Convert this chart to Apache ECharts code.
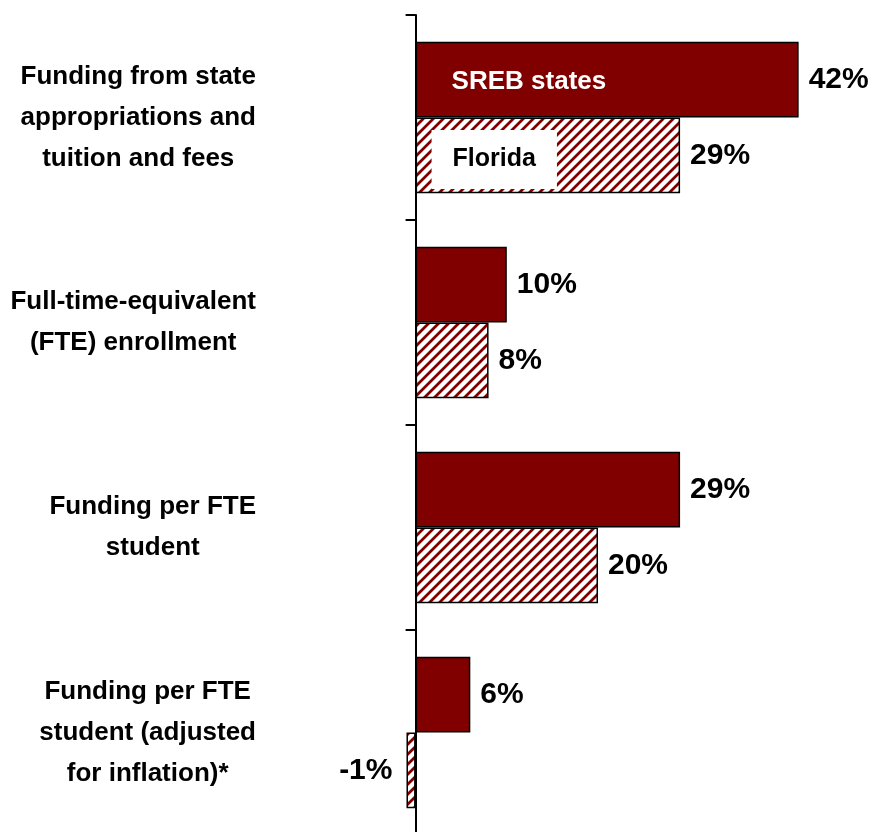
<!DOCTYPE html>
<html>
<head>
<meta charset="utf-8">
<script src="https://cdn.jsdelivr.net/npm/echarts@6/dist/echarts.min.js"></script>
<style>
  html, body { margin: 0; padding: 0; background: #fff; }
  #main { width: 876px; height: 832px; }
</style>
</head>
<body>
<div id="main"></div>
<script>
// data
var categories = [
    'Funding from state\nappropriations and\ntuition and fees',
    'Full-time-equivalent\n(FTE) enrollment',
    'Funding per FTE\nstudent',
    'Funding per FTE\nstudent (adjusted\nfor inflation)*'
];
var seriesNames = ['SREB states', 'Florida'];
var srebValues = [42, 10, 29, 6];
var floridaValues = [29, 8, 20, -1];

var maroon = '#800000';
var font = 'Liberation Sans, Arial, Helvetica, sans-serif';

// diagonal stripes for Florida, drawn pixel by pixel so they stay crisp
function stripes() {
    var s = 10;
    var c = document.createElement('canvas');
    c.width = s; c.height = s;
    var g = c.getContext('2d');
    for (var y = 0; y < s; y++) {
        for (var x = 0; x < s; x++) {
            var k = (x + y) % s;
            g.fillStyle = k < 3 ? maroon : (k === 3 || k === 9 ? '#c48a8a' : '#fff');
            g.fillRect(x, y, 1, 1);
        }
    }
    return c;
}
var hatch = { image: stripes(), repeat: 'repeat' };

function valueLabel() {
    return {
        show: true,
        position: 'right',
        distance: 10,
        color: '#000',
        fontFamily: font,
        fontWeight: 'bold',
        fontSize: 30,
        formatter: function (p) { return p.value + '%'; }
    };
}

// negative bars get their label on the left
function withSide(arr) {
    return arr.map(function (v) {
        return v < 0 ? { value: v, label: { position: 'left', distance: 14 } } : v;
    });
}

// name labels drawn on the first pair of bars only
function firstOnly(arr) {
    return arr.map(function (v, i) {
        return i === 0 ? { value: v, label: { show: true } } : v;
    });
}

var chart = echarts.init(document.getElementById('main'));

var option = {
    animation: false,
    grid: [
        { left: 370, right: 50, top: 15, bottom: -3, outerBoundsMode: 'none', containLabel: false },
        { left: 370, right: 50, top: 15, bottom: -3, outerBoundsMode: 'none', containLabel: false }
    ],
    xAxis: [
        { type: 'value', gridIndex: 0, min: -5, max: 45, show: false },
        { type: 'value', gridIndex: 1, min: -5, max: 45, show: false }
    ],
    yAxis: [
        {
            type: 'category',
            gridIndex: 0,
            inverse: true,
            data: categories,
            axisLine: { onZero: true, lineStyle: { color: '#000', width: 2 } },
            axisTick: { show: true, length: 10, lineStyle: { color: '#000', width: 2 } },
            axisLabel: {
                align: 'right',
                margin: 114,
                formatter: function (v) {
                    return v.split('\n').map(function (l) { return '{c|' + l + '}'; }).join('\n');
                },
                rich: {
                    c: {
                        align: 'center',
                        fontFamily: font,
                        fontWeight: 'bold',
                        fontSize: 26,
                        lineHeight: 41,
                        color: '#000'
                    }
                }
            }
        },
        { type: 'category', gridIndex: 1, inverse: true, data: categories, show: false }
    ],
    series: [
        {
            name: seriesNames[0],
            type: 'bar',
            barGap: '0%',
            barCategoryGap: '26%',
            data: withSide(srebValues),
            itemStyle: { color: maroon, borderColor: '#000', borderWidth: 1.5 },
            label: valueLabel()
        },
        {
            name: seriesNames[1],
            type: 'bar',
            barGap: '0%',
            barCategoryGap: '26%',
            data: withSide(floridaValues),
            itemStyle: { color: hatch, borderColor: '#000', borderWidth: 1.5 },
            label: valueLabel()
        },
        {
            name: seriesNames[0] + ' label',
            type: 'bar',
            xAxisIndex: 1,
            yAxisIndex: 1,
            barGap: '0%',
            barCategoryGap: '26%',
            silent: true,
            data: firstOnly(srebValues),
            itemStyle: { color: 'transparent' },
            label: {
                show: false,
                position: 'insideLeft',
                offset: [31, 2],
                color: '#fff',
                fontFamily: font,
                fontWeight: 'bold',
                fontSize: 26,
                formatter: seriesNames[0]
            }
        },
        {
            name: seriesNames[1] + ' label',
            type: 'bar',
            xAxisIndex: 1,
            yAxisIndex: 1,
            barGap: '0%',
            barCategoryGap: '26%',
            silent: true,
            data: firstOnly(floridaValues),
            itemStyle: { color: 'transparent' },
            label: {
                show: false,
                position: 'insideLeft',
                offset: [11, 4],
                color: '#000',
                backgroundColor: '#fff',
                padding: [17, 21, 17, 21],
                fontFamily: font,
                fontWeight: 'bold',
                fontSize: 25,
                formatter: seriesNames[1]
            }
        }
    ]
};

chart.setOption(option);
</script>
</body>
</html>
